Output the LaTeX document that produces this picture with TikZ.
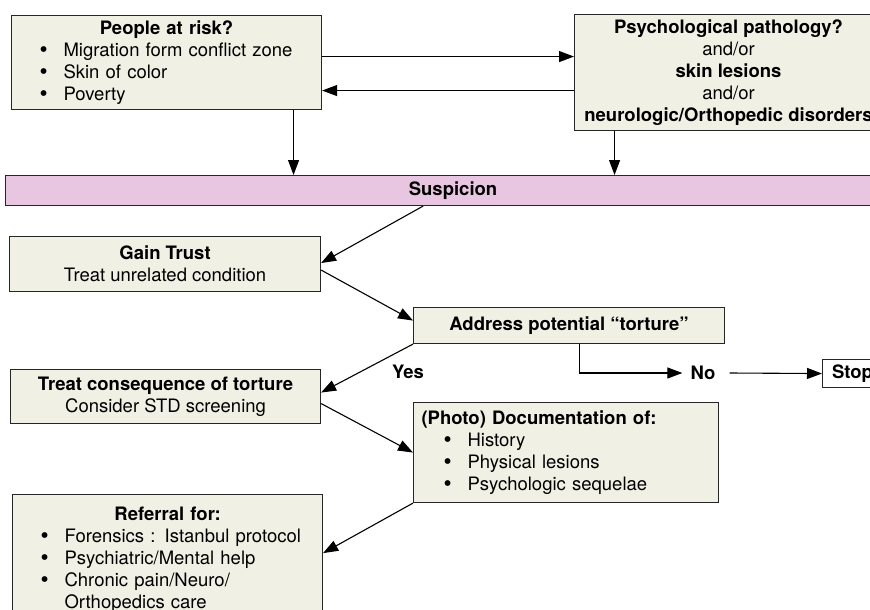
\documentclass[tikz,border=0pt]{standalone}
\usepackage{fontspec}
\setmainfont{TeX Gyre Heros}
\usetikzlibrary{positioning,arrows.meta}

\definecolor{boxfill}{RGB}{240,240,228}
\definecolor{suspfill}{RGB}{232,198,226}

\newcommand{\bitem}[1]{\hspace*{22pt}\makebox[24pt][l]{\raisebox{-1.5pt}{\scalebox{1.25}{\textbullet}}}#1}
\newcommand{\btitle}[1]{\makebox[\linewidth]{\textbf{#1}}}

\begin{document}
\begin{tikzpicture}[
    x=1pt, y=-1pt,
    font=\fontsize{18.5}{22}\selectfont,
    box/.style={
      draw=black!85, line width=1.1pt, fill=boxfill,
      anchor=north west,
      inner xsep=6pt, inner ysep=4pt
    },
    listbox/.style={box, align=left},        % title + bullet lines
    midbox/.style={box, align=center},
    suspbar/.style={box, fill=suspfill, align=center},
    stopbox/.style={box, fill=white},
    lbl/.style={font=\fontsize{18.5}{22}\selectfont\bfseries, inner sep=0pt},
    arr/.style={line width=1.1pt, -{Triangle[length=15pt,width=11pt]}}
  ]

% picture size, boxes run off the right and bottom edge
    \useasboundingbox (0,0) rectangle (870,610);
    \clip (0,0) rectangle (870,610);

% --- Top row ---
    \node[listbox, text width=298pt, minimum height=94pt] (people) at (11,15) {%
      \btitle{People at risk?}\\
      \bitem{Migration form conflict zone}\\
      \bitem{Skin of color}\\
      \bitem{Poverty}};

    \node[midbox, minimum width=308pt, minimum height=116pt] (psych) at (574,14) {%
      \textbf{Psychological pathology?}\\
      and/or\\
      \textbf{skin lesions}\\
      and/or\\
      \textbf{neurologic/Orthopedic disorders}};

% --- Suspicion bar ---
    \node[suspbar, minimum width=895pt, minimum height=30pt] (susp) at (5,175) {\textbf{Suspicion}};

% --- Steps ---
    \node[midbox, minimum width=311pt, minimum height=55pt] (gain) at (9,236) {%
      \textbf{Gain Trust}\\
      Treat unrelated condition};

    \node[midbox, minimum width=311pt, minimum height=36pt] (addr) at (413,307) {%
      \textbf{Address potential “torture”}};

    \node[midbox, minimum width=310pt, minimum height=54pt] (treat) at (10,369) {%
      \textbf{Treat consequence of torture}\\
      Consider STD screening};

    \node[listbox, inner xsep=8pt, text width=289pt, minimum height=100pt] (doc) at (413,402) {%
      \textbf{(Photo) Documentation of:}\\
      \bitem{History}\\
      \bitem{Physical lesions}\\
      \bitem{Psychologic sequelae}};

    \node[listbox, text width=298pt, inner ysep=12pt] (refer) at (12,494) {%
      \btitle{Referral for:}\\
      \bitem{Forensics : Istanbul protocol}\\
      \bitem{Psychiatric/Mental help}\\
      \bitem{Chronic pain/Neuro/}\\
      \hspace*{46pt}Orthopedics care};

% --- Yes / No ---
    \node[lbl] (yes) at (408,372) {Yes};
    \node[lbl, inner xsep=8pt] (no) at (703,373) {No};
    \node[stopbox, minimum width=60pt, minimum height=28pt] (stop) at (822,359) {\textbf{Stop}};

% --- Connectors ---
    \coordinate (pdown) at ([xshift=127pt]people.south);
    \coordinate (qdown) at ([xshift=-114pt]psych.south);
    \coordinate (pright) at ([yshift=6pt]people.east);
    \coordinate (qleft) at ([yshift=-18pt]psych.west);
    \draw[arr] (pright) -- (pright -| psych.west);
    \draw[arr] (qleft) -- (qleft -| people.east);
    \draw[arr] (pdown) -- (pdown |- susp.north);
    \draw[arr] (qdown) -- (qdown |- susp.north);

    \draw[arr] ([xshift=-30pt]susp.south) -- ([yshift=1pt]gain.east);
    \draw[arr] ([yshift=-6pt]gain.east) -- ([yshift=5pt]addr.west);
    \draw[arr] (addr.south west) -- ([yshift=4pt]treat.east);
    \draw[arr] ([yshift=-7pt]treat.east) -- (doc.west);
    \coordinate (rtip) at ([yshift=-50pt]doc.south west);
    \draw[arr] (doc.south west) -- (rtip -| refer.east);

    \coordinate (noturn) at ([xshift=10.5pt]addr.south);
    \draw[arr] (noturn) |- (no.west);
    \draw[arr] ([xshift=6pt]no.east) -- (stop.west);

\end{tikzpicture}
\end{document}
